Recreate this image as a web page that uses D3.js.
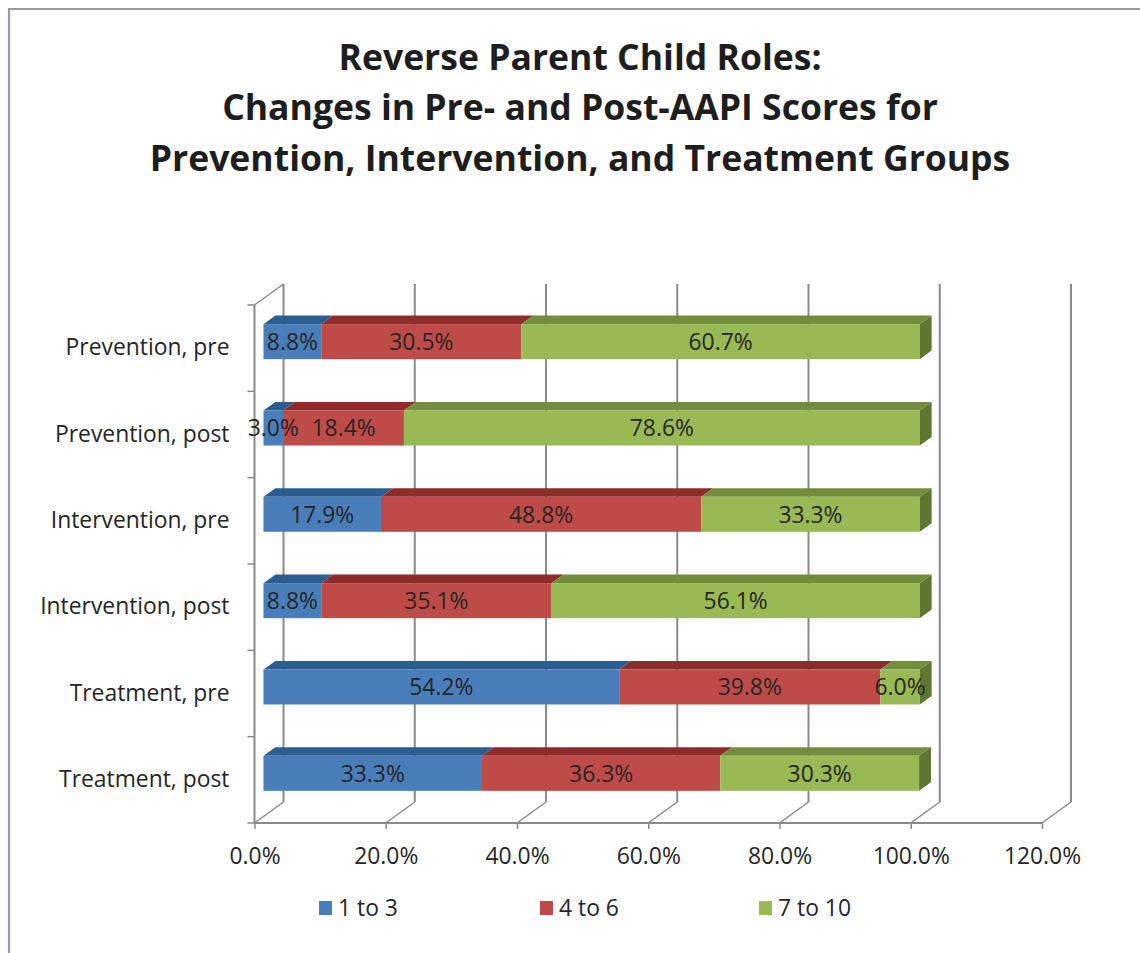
<!DOCTYPE html>
<html>
<head>
<meta charset="utf-8">
<script src="https://cdn.jsdelivr.net/npm/d3@7"></script>
<style>
  html, body { margin: 0; padding: 0; background: #fff; }
  svg { display: block; }
  text { font-family: "Open Sans", Lato, sans-serif; fill: #262626; }
</style>
</head>
<body>
<svg id="chart" width="1140" height="953"></svg>
<script>
// ---- data ----
const titleLines = [
  "Reverse Parent Child Roles:",
  "Changes in Pre- and Post-AAPI Scores for",
  "Prevention, Intervention, and Treatment Groups"
];
const categories = [
  "Prevention, pre",
  "Prevention, post",
  "Intervention, pre",
  "Intervention, post",
  "Treatment, pre",
  "Treatment, post"
];
const seriesNames = ["1 to 3", "4 to 6", "7 to 10"];
const low  = [8.8, 3.0, 17.9, 8.8, 54.2, 33.3];
const mid  = [30.5, 18.4, 48.8, 35.1, 39.8, 36.3];
const high = [60.7, 78.6, 33.3, 56.1, 6.0, 30.3];
const xTicks = [0, 20, 40, 60, 80, 100, 120];

// ---- styles ----
const faceColors = ["#4A7EBB", "#BE4B48", "#98B954"];
const topColors  = ["#2C5D91", "#8D2C29", "#728D3C"];
const sideColors = ["#264F7D", "#7A2523", "#5F7631"];

const svg = d3.select("#chart");

// helper: font size so that a sample string has a given width
function fitSize(sample, targetW, weight) {
  const t = svg.append("text").style("font-size", "100px").style("font-weight", weight || "normal").text(sample);
  const w = t.node().getComputedTextLength();
  t.remove();
  return 100 * targetW / w;
}
const labelSize = fitSize("Prevention, pre", 164);
const titleSize = fitSize("Changes in Pre- and Post-AAPI Scores for", 716, "bold");

// outer border (left and top only visible)
svg.append("path")
  .attr("d", "M9,953 L9,9 L1140,9")
  .attr("fill", "none").attr("stroke", "#9a9a9e").attr("stroke-width", 2.2);

// title
const title = svg.append("text")
  .attr("text-anchor", "middle")
  .style("font-weight", "bold").style("font-size", titleSize + "px").style("fill", "#1e1e1e");
titleLines.forEach((t, i) => {
  title.append("tspan").attr("x", 580).attr("y", 57 + i * 50.5).attr("dy", "0.36em").text(t);
});

// ---- geometry ----
const depth = { dx: 29, dy: -21 };
const x = d3.scaleLinear().domain([0, 120]).range([254.5, 1042]);
const y = d3.scaleBand().domain(categories).range([305, 823]).padding(0);
const barD1 = 0.31, barD2 = 0.72;   // depth fraction of bar front/back
const barH = 35;

const grid = svg.append("g").attr("fill", "none").attr("stroke", "#8a8a8a");

// back wall gridlines
xTicks.forEach(t => {
  grid.append("line")
    .attr("x1", x(t) + depth.dx).attr("x2", x(t) + depth.dx)
    .attr("y1", 305 + depth.dy).attr("y2", 823 + depth.dy)
    .attr("stroke-width", 2);
  grid.append("line")
    .attr("x1", x(t)).attr("y1", 823)
    .attr("x2", x(t) + depth.dx).attr("y2", 823 + depth.dy)
    .attr("stroke-width", 1.5);
});
grid.append("line")
  .attr("x1", x(0)).attr("y1", 305)
  .attr("x2", x(0) + depth.dx).attr("y2", 305 + depth.dy)
  .attr("stroke-width", 1.5);

// front axes
const axisG = svg.append("g");
const xAxis = d3.axisBottom(x).tickValues(xTicks).tickSize(6).tickPadding(19)
  .tickFormat(d => d.toFixed(1) + "%");
axisG.append("g").attr("transform", "translate(0,823)").call(xAxis)
  .call(g => g.select(".domain").attr("stroke", "#8a8a8a").attr("stroke-width", 2).attr("d", `M${x(0)},0H${x(120)}`))
  .call(g => g.selectAll(".tick line").attr("stroke", "#8a8a8a").attr("stroke-width", 1.5))
  .call(g => g.selectAll(".tick text").style("font-size", labelSize + "px").style("fill", "#262626").attr("font-family", null));

const yAxis = d3.axisLeft(y).tickSize(0).tickPadding(25);
axisG.append("g").attr("transform", `translate(${x(0)},0)`).call(yAxis)
  .call(g => g.select(".domain").attr("stroke", "#8a8a8a").attr("stroke-width", 2).attr("d", "M0,305V823"))
  .call(g => g.selectAll(".tick text").style("font-size", labelSize + "px").style("fill", "#262626").attr("font-family", null));
const bounds = categories.map(c => y(c)).concat([823]);
axisG.selectAll("line.cb").data(bounds).join("line")
  .attr("x1", x(0) - 7).attr("x2", x(0))
  .attr("y1", d => d).attr("y2", d => d)
  .attr("stroke", "#8a8a8a").attr("stroke-width", 1.5);

// ---- bars ----
const series = [low, mid, high];
const ox1 = depth.dx * barD1, oy1 = depth.dy * barD1;
const ddx = depth.dx * (barD2 - barD1), ddy = depth.dy * (barD2 - barD1);
const barsG = svg.append("g");
categories.forEach((cat, i) => {
  const yc = y(cat) + y.bandwidth() / 2 + oy1;
  const y0 = yc - barH / 2, y1 = yc + barH / 2;
  let cum = 0;
  const segs = series.map((s, k) => {
    const a = cum; cum += s[i];
    return { k, a, b: cum, v: s[i] };
  });
  segs.forEach(sg => {
    const xa = x(sg.a) + ox1, xb = x(sg.b) + ox1;
    barsG.append("path")
      .attr("d", `M${xa},${y0}L${xb},${y0}L${xb + ddx},${y0 + ddy}L${xa + ddx},${y0 + ddy}Z`)
      .attr("fill", topColors[sg.k]);
    barsG.append("rect")
      .attr("x", xa).attr("y", y0).attr("width", xb - xa).attr("height", barH)
      .attr("fill", faceColors[sg.k]);
  });
  const last = segs[segs.length - 1];
  const xr = x(last.b) + ox1;
  barsG.append("path")
    .attr("d", `M${xr},${y0}L${xr + ddx},${y0 + ddy}L${xr + ddx},${y1 + ddy}L${xr},${y1}Z`)
    .attr("fill", sideColors[last.k]);
  segs.forEach(sg => {
    barsG.append("text")
      .attr("x", (x(sg.a) + x(sg.b)) / 2 + ox1)
      .attr("y", yc).attr("dy", "0.36em")
      .attr("text-anchor", "middle")
      .style("font-size", labelSize + "px").style("fill", "#262626")
      .text(sg.v.toFixed(1) + "%");
  });
});

// ---- legend ----
const legendX = [319, 540, 759];
const leg = svg.append("g");
seriesNames.forEach((n, k) => {
  leg.append("rect").attr("x", legendX[k]).attr("y", 901).attr("width", 13).attr("height", 14)
    .attr("fill", faceColors[k]);
  leg.append("text").attr("x", legendX[k] + 19).attr("y", 908).attr("dy", "0.36em")
    .style("font-size", labelSize + "px").text(n);
});
</script>
</body>
</html>
